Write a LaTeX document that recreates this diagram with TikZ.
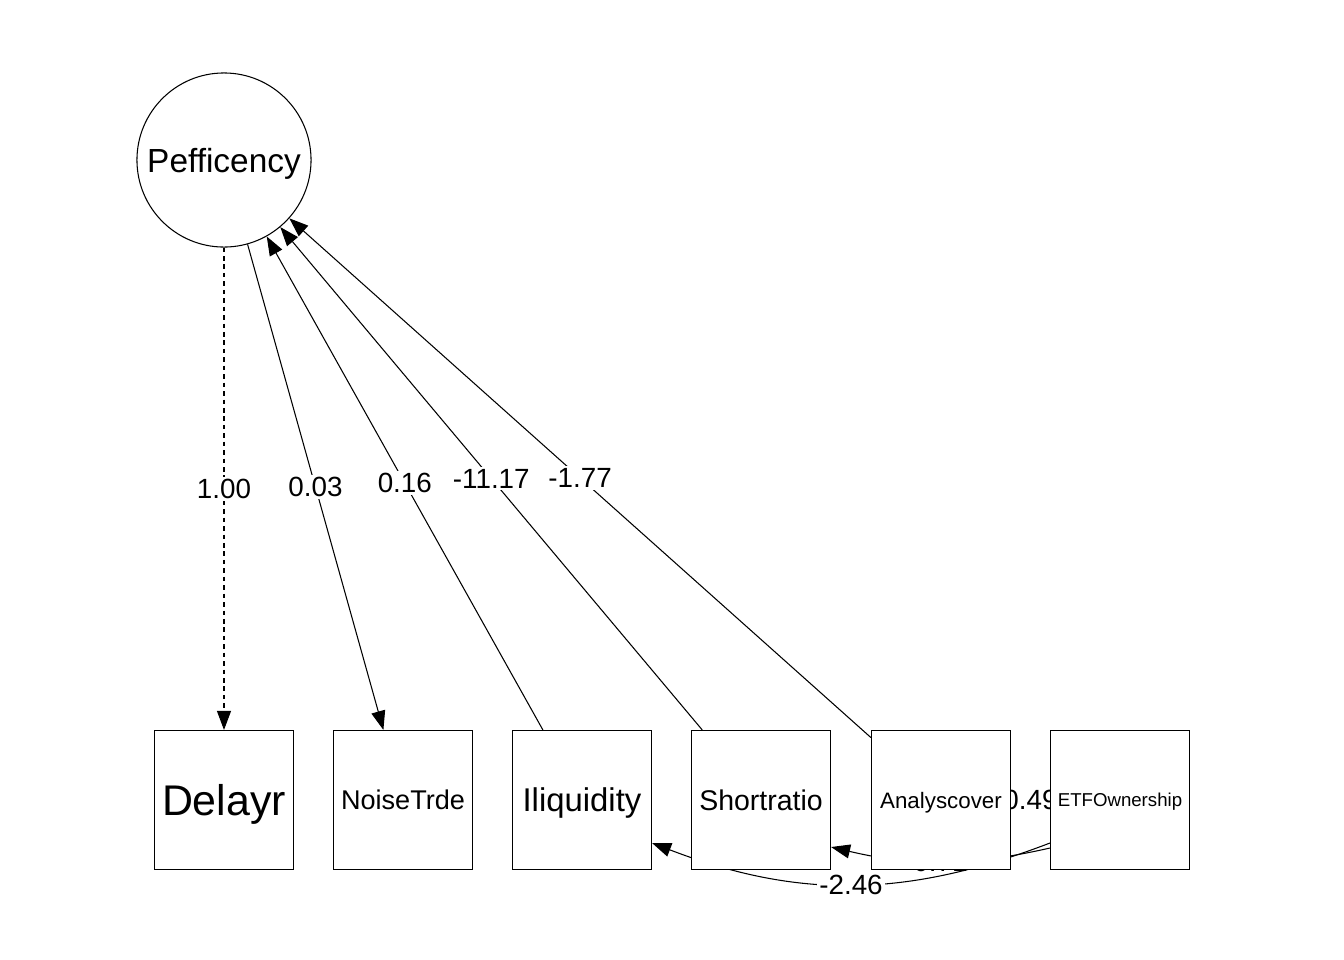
\documentclass[tikz,border=0pt]{standalone}
\usepackage{fontspec}
\setmainfont{Liberation Sans}
\usetikzlibrary{arrows.meta}
\pgfdeclarelayer{background}
\pgfsetlayers{background,main}
\newcommand{\fsz}[1]{\fontsize{#1}{#1}\selectfont}

\begin{document}
\begin{tikzpicture}[x=0.01cm,y=-0.01cm,>={Triangle[length=0.19cm,width=0.14cm]},
    obs/.style={draw,fill=white,line width=0.3pt,minimum size=1.39cm,inner sep=0pt,text depth=0pt},
    lat/.style={draw,fill=white,line width=0.3pt,circle,minimum size=1.74cm,inner sep=0pt,text depth=0pt},
    lab/.style={fill=white,inner sep=0.6pt,text depth=0pt,font=\fsz{7.9pt}},
    path/.style={line width=0.3pt}]
    \useasboundingbox (0,0) rectangle (1344,960);
    \node[lat,font=\fsz{9.5pt}] (pef) at (224,160) {Pefficency};
    \node[obs,font=\fsz{12.2pt}] (delayr) at (224,800) {Delayr};
    \node[obs,font=\fsz{7.7pt}] (noise) at (403,800) {NoiseTrde};
    \node[obs,font=\fsz{9.35pt}] (iliq) at (582,800) {Iliquidity};
    \node[obs,font=\fsz{8.1pt}] (short) at (761,800) {Shortratio};
    \node[obs,font=\fsz{6.35pt}] (analy) at (941,800) {Analyscover};
    \node[obs,font=\fsz{5.3pt}] (etf) at (1120,800) {ETFOwnership};
\begin{pgfonlayer}{background}
    % loadings and regressions on the latent
    \draw[path,->,dash pattern=on 1.3pt off 1.1pt](pef)--node[lab]{1.00}(delayr);
    \draw[path,->](pef)--node[lab]{0.03}(noise);
    \draw[path,->](iliq)--node[lab]{0.16}(pef);
    \draw[path,->](short)--node[lab]{-11.17}(pef);
    \draw[path,->](analy)--node[lab]{-1.77}(pef);
    % ETF paths
    \draw[path,->](etf)--node[lab]{0.49}(analy);
    \draw[path,->]([yshift=-0.48cm]etf.west) to[bend left=13] node[lab]{0.71} ([yshift=-0.47cm]short.east);
    \draw[path,->]([yshift=-0.43cm]etf.west) to[bend left=21] node[lab]{-2.46} ([yshift=-0.43cm]iliq.east);
\end{pgfonlayer}
\end{tikzpicture}
\end{document}
